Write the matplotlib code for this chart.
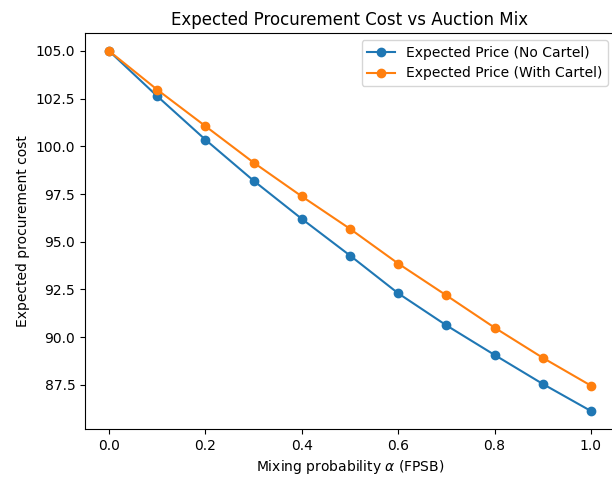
import matplotlib
matplotlib.use("Agg")
import matplotlib.pyplot as plt

alpha = [0.0, 0.1, 0.2, 0.3, 0.4, 0.5, 0.6, 0.7, 0.8, 0.9, 1.0]
price_no_cartel = [105.0, 102.63, 100.35, 98.2, 96.2, 94.28, 92.3, 90.62, 89.07, 87.55, 86.13]
price_cartel = [105.0, 102.97, 101.06, 99.15, 97.38, 95.68, 93.86, 92.19, 90.5, 88.92, 87.46]

fig = plt.figure(figsize=(6.12, 4.83), dpi=100)
# reference is cropped a little on the right, so the axes run past the edge
ax = fig.add_axes([85 / 612, 54 / 483, 530 / 612, 396 / 483])
ax.plot(alpha, price_no_cartel, marker="o", label="Expected Price (No Cartel)")
ax.plot(alpha, price_cartel, marker="o", label="Expected Price (With Cartel)")
ax.set(xlabel=r"Mixing probability $\alpha$ (FPSB)",
       ylabel="Expected procurement cost",
       title="Expected Procurement Cost vs Auction Mix")
ax.legend()
fig.savefig("out.png", dpi=100)
